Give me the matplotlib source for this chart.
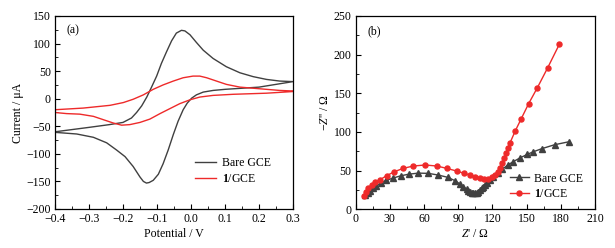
import numpy as np
import matplotlib
matplotlib.use("Agg")
import matplotlib.pyplot as plt
from matplotlib.ticker import MultipleLocator

plt.rcParams['font.family'] = ['Liberation Serif', 'DejaVu Serif']
plt.rcParams['mathtext.fontset'] = 'custom'
plt.rcParams['mathtext.rm'] = 'Liberation Serif'
plt.rcParams['mathtext.it'] = 'Liberation Serif:italic'
plt.rcParams['mathtext.bf'] = 'Liberation Serif:bold'
plt.rcParams['font.size'] = 8.5

# (a) cyclic voltammograms: forward and reverse sweeps
bare_fwd_E = [-0.40, -0.30, -0.24, -0.20, -0.175, -0.16, -0.145, -0.13, -0.116, -0.101,
              -0.087, -0.072, -0.057, -0.043, -0.028, -0.018, -0.003, 0.016, 0.036, 0.065,
              0.104, 0.144, 0.183, 0.222, 0.261, 0.30]
bare_fwd_I = [-60, -52, -47, -43, -35, -25, -13, 3, 21, 41,
              64, 85, 105, 119, 124, 123, 116, 102, 88, 73,
              58, 47, 40, 35, 32, 31]
bare_rev_E = [0.30, 0.20, 0.10, 0.065, 0.036, 0.016, 0.002, -0.011, -0.023, -0.038,
              -0.052, -0.067, -0.082, -0.096, -0.111, -0.123, -0.131, -0.140, -0.150,
              -0.170, -0.194, -0.219, -0.248, -0.287, -0.336, -0.40]
bare_rev_I = [31, 21, 17, 15, 12, 7, 1, -8, -20, -41,
              -65, -93, -118, -137, -148, -152, -153, -150, -142,
              -123, -105, -93, -80, -70, -64, -61]

mod_fwd_E = [-0.40, -0.317, -0.238, -0.199, -0.170, -0.140, -0.111, -0.082, -0.052, -0.023,
             0.006, 0.026, 0.046, 0.075, 0.104, 0.144, 0.183, 0.222, 0.261, 0.30]
mod_fwd_I = [-20, -17, -12, -7, -1, 7, 17, 25, 32, 38,
             41, 41, 38, 32, 26, 21, 19, 17, 15, 14]
mod_rev_E = [0.30, 0.222, 0.124, 0.065, 0.026, -0.003, -0.033, -0.062, -0.091, -0.121,
             -0.150, -0.180, -0.204, -0.229, -0.258, -0.287, -0.327, -0.366, -0.40]
mod_rev_I = [13, 10, 8, 6, 3, -2, -9, -18, -27, -37,
             -43, -47, -48, -44, -38, -32, -28, -27, -25]

# (b) Nyquist plots
bare_zre = [8.5, 10.5, 12.5, 15, 18, 22, 27, 33, 40, 47, 55, 63.7, 72.5, 80.7, 87.2, 91.5,
            94.5, 97.4, 99, 100.3, 101.7, 103.2, 104.7, 106.2, 107.6, 109.1, 110.5, 112,
            113.5, 115, 117.9, 120.8, 124.6, 128.7, 133.4, 138.3, 144.2, 150.5, 156,
            163.5, 174.5, 187.5]
bare_zim = [18, 21, 24, 27, 30.5, 34, 37.5, 40.5, 43.5, 45.5, 46.8, 46.5, 44.3, 41.4, 37,
            32.7, 29.2, 25.9, 24, 22.8, 21.5, 20.7, 20.8, 21.5, 23, 25, 27, 29.2,
            31.4, 33.6, 37.9, 42.2, 46.5, 51.7, 57.3, 61.6, 66.5, 71, 74.5,
            78.5, 83.5, 87.5]
mod_zre = [7.3, 9.1, 11.1, 14.0, 17.0, 21.4, 27.2, 33.9, 41.8, 50.6, 61, 71.1, 79.8, 88.6,
           95.3, 100.3, 104.7, 109.1, 112.9, 116.4, 119.3, 122.3, 124.6, 126.6, 128.7,
           130.5, 132, 133.5, 135.5, 140.1, 145.3, 151.8, 159.4, 168.5, 178.7]
mod_zim = [17.6, 22.8, 27.2, 31.4, 34.9, 38.3, 43.5, 48.6, 53.0, 56.0, 57.3, 56.0, 53.0, 49.5,
           46.5, 44.3, 42.2, 40.1, 38.8, 39.2, 41.4, 44.3, 48.6, 53.8, 59.5,
           66.0, 72.4, 78.9, 86.2, 101.6, 117.2, 136.7, 157.2, 183.1, 213.4]

dark = '#404040'
red = '#ee2a2a'

fig = plt.figure(figsize=(6.15, 2.48), dpi=100)
ax1 = fig.add_axes([0.0894, 0.1573, 0.387, 0.7782])
ax2 = fig.add_axes([0.5783, 0.1560, 0.3892, 0.7795])

ax1.plot(bare_fwd_E + bare_rev_E, bare_fwd_I + bare_rev_I, color=dark, lw=1.0, label='Bare GCE')
ax1.plot(mod_fwd_E + mod_rev_E, mod_fwd_I + mod_rev_I, color=red, lw=1.0, label=r'$\mathbf{1}$/GCE')
ax1.set_xlim(-0.4, 0.3)
ax1.set_ylim(-200, 150)
ax1.xaxis.set_major_locator(MultipleLocator(0.1))
ax1.xaxis.set_minor_locator(MultipleLocator(0.05))
ax1.yaxis.set_major_locator(MultipleLocator(50))
ax1.yaxis.set_minor_locator(MultipleLocator(25))
ax1.set_xlabel('Potential / V', labelpad=2)
ax1.set_ylabel('Current / μA', labelpad=2)
ax1.text(0.049, 0.925, '(a)', transform=ax1.transAxes, va='center', ha='left')
ax1.legend(loc='upper left', bbox_to_anchor=(0.588, 0.27), frameon=False, borderpad=0,
           borderaxespad=0, handlelength=1.8, handletextpad=0.5, labelspacing=0.35)

ax2.plot(bare_zre, bare_zim, color=dark, lw=1.0, marker='^', ms=3.8, label='Bare GCE')
ax2.plot(mod_zre, mod_zim, color=red, lw=1.0, marker='o', ms=3.6, label=r'$\mathbf{1}$/GCE')
ax2.set_xlim(0, 210)
ax2.set_ylim(0, 250)
ax2.xaxis.set_major_locator(MultipleLocator(30))
ax2.xaxis.set_minor_locator(MultipleLocator(15))
ax2.yaxis.set_major_locator(MultipleLocator(50))
ax2.yaxis.set_minor_locator(MultipleLocator(25))
ax2.set_xlabel(r"$\mathit{Z}$' / Ω", labelpad=2)
ax2.set_ylabel(r"−$\mathit{Z}$'' / Ω", labelpad=2)
ax2.text(0.051, 0.922, '(b)', transform=ax2.transAxes, va='center', ha='left')
ax2.legend(loc='upper left', bbox_to_anchor=(0.645, 0.19), frameon=False, borderpad=0,
           borderaxespad=0, handlelength=1.6, handletextpad=0.4, labelspacing=0.3)

for ax in (ax1, ax2):
    ax.tick_params(which='both', direction='in', top=False, right=False, pad=3)
    ax.tick_params(which='major', length=3.5, width=0.8)
    ax.tick_params(which='minor', length=2, width=0.6)
    for s in ax.spines.values():
        s.set_linewidth(0.9)

fig.savefig('out.png', dpi=100)
